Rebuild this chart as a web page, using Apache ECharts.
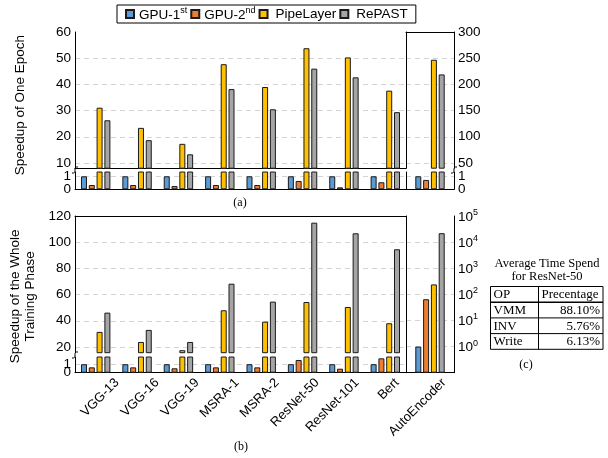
<!DOCTYPE html>
<html>
<head>
<meta charset="utf-8">
<script src="https://cdn.jsdelivr.net/npm/echarts@6.0.0/dist/echarts.min.js"></script>
<style>
  html, body { margin: 0; padding: 0; background: #fff; }
  #chart { width: 608px; height: 458px; }
</style>
</head>
<body>
<div id="chart"></div>
<script>
const categories = ['VGG-13', 'VGG-16', 'VGG-19', 'MSRA-1', 'MSRA-2', 'ResNet-50', 'ResNet-101', 'Bert'];
const extraCategory = ['AutoEncoder'];
const seriesNames = ['GPU-1st', 'GPU-2nd', 'PipeLayer', 'RePAST'];
const colors = ['#5B9BD5', '#ED7D31', '#FFC000', '#A5A5A5'];

// (a) speedup of one epoch (left axis)
const epochGpu1 = [1, 1, 1, 1, 1, 1, 1, 1];
const epochGpu2 = [0.33, 0.33, 0.25, 0.33, 0.33, 0.64, 0.15, 0.54];
const epochPipe = [31.1, 23.4, 17.3, 47.7, 39.0, 53.8, 50.3, 37.6];
const epochRepast = [26.3, 18.7, 13.3, 38.2, 30.5, 46.0, 42.7, 29.4];
// AutoEncoder, right axis, in series order
const epochAuto = [1, 0.72, 247, 219];

// (b) speedup of the whole training phase
const wholeGpu1 = [1, 1, 1, 1, 1, 1, 1, 1];
const wholeGpu2 = [0.63, 0.63, 0.52, 0.63, 0.63, 1.5, 0.47, 1.69];
const wholePipe = [31.5, 23.8, 17.5, 48.0, 39.3, 54.3, 50.5, 38.1];
const wholeRepast = [46.2, 33.0, 23.8, 68.3, 54.6, 114.9, 106.8, 94.6];
// AutoEncoder, log axis
const wholeAuto = [1, 65, 240, 22000];

const epochTicks = [10, 20, 30, 40, 50, 60];
const epochAutoTicks = [50, 100, 150, 200, 250, 300];
const wholeTicks = [20, 40, 60, 80, 100, 120];
const wholeAutoTicks = [1, 10, 100, 1000, 10000, 100000];
const lowTicks = [0, 1];

const tableOps = ['VMM', 'INV', 'Write'];
const tablePct = ['88.10%', '5.76%', '6.13%'];

const SANS = '"Liberation Sans", Arial, sans-serif';
const SERIF = '"Liberation Serif", "Times New Roman", serif';

const grids = [
  { left: 75, top: 32, width: 331, height: 136.2 },   // 0 (a) upper
  { left: 75, top: 172, width: 331, height: 17.3 },   // 1 (a) lower
  { left: 406, top: 32, width: 48, height: 136.2 },   // 2 (a) AutoEncoder upper
  { left: 406, top: 172, width: 48, height: 17.3 },   // 3 (a) AutoEncoder lower
  { left: 75, top: 216, width: 331, height: 136.7 },  // 4 (b) upper
  { left: 75, top: 357, width: 331, height: 15.7 },   // 5 (b) lower
  { left: 406, top: 216, width: 48, height: 156.7 },  // 6 (b) AutoEncoder, log
  { left: 97, top: 357, width: 320, height: 15.7 },   // 7 category labels
  { left: 420, top: 357, width: 48, height: 15.7 },   // 8 category labels
  { left: 75, top: 172, width: 379, height: 17.3 },   // 9 (a) "0" labels
  { left: 75, top: 357, width: 379, height: 15.7 }    // 10 (b) "0" label
].map(g => Object.assign({ outerBoundsMode: 'none' }, g));

function frameX(gridIndex, data, position) {
  return {
    type: 'category', gridIndex, data, position,
    axisLine: { show: true, lineStyle: { color: '#000', width: 1 } },
    axisTick: { show: false }, axisLabel: { show: false }, splitLine: { show: false }
  };
}
function labelX(gridIndex, data) {
  return {
    type: 'category', gridIndex, data, position: 'bottom',
    axisLine: { show: false }, axisTick: { show: false },
    axisLabel: { interval: 0, rotate: 45, margin: 8, fontSize: 13, fontFamily: SANS, color: '#000' }
  };
}
function hiddenX(gridIndex) {
  return { type: 'category', gridIndex, data: categories, show: false };
}

const dashed = { show: true, lineStyle: { color: '#d4d4d4', type: [5, 4], width: 1 } };
const axisText = { margin: 4, fontSize: 13.5, fontFamily: SANS, color: '#000' };

function valueY(gridIndex, position, min, max, labels, lines, extra) {
  return Object.assign({
    type: 'value', gridIndex, position, min, max,
    axisLine: { show: true, lineStyle: { color: '#000' } },
    axisTick: { show: false, customValues: lines },
    axisLabel: Object.assign({ customValues: labels }, axisText),
    splitLine: dashed
  }, extra || {});
}
// labels only, no line (the low "0" would otherwise be hidden as overlapping "1")
function zeroY(gridIndex, position, max) {
  return {
    type: 'value', gridIndex, position, min: 0, max,
    axisLine: { show: false }, axisTick: { show: false }, splitLine: { show: false },
    axisLabel: Object.assign({ customValues: [lowTicks[0]] }, axisText)
  };
}
function dividerY(gridIndex, position) {
  return {
    type: 'value', gridIndex, position, min: 0, max: 1,
    axisLine: { show: true, lineStyle: { color: '#000' } },
    axisTick: { show: false }, axisLabel: { show: false }, splitLine: { show: false }
  };
}

const xAxis = [
  frameX(0, categories, 'top'),
  frameX(1, categories, 'bottom'),
  frameX(2, extraCategory, 'top'),
  frameX(3, extraCategory, 'bottom'),
  frameX(4, categories, 'top'),
  frameX(5, categories, 'bottom'),
  frameX(6, extraCategory, 'top'),
  frameX(6, extraCategory, 'bottom'),
  labelX(7, categories),
  labelX(8, extraCategory),
  hiddenX(9),
  hiddenX(10)
];

const supRich = {
  b: { fontSize: 13.5, fontFamily: SANS, color: '#000', verticalAlign: 'bottom', lineHeight: 16 },
  s: { fontSize: 9, fontFamily: SANS, color: '#000', verticalAlign: 'bottom', lineHeight: 10, padding: [0, 0, 7, 0] }
};

const yAxis = [
  valueY(0, 'left', 8, 60, epochTicks, [10, 20, 30, 40, 50], {
    name: 'Speedup of One Epoch', nameLocation: 'middle', nameGap: 48,
    nameTextStyle: { fontSize: 13.5, fontFamily: SANS, color: '#000', padding: [0, 10, 0, 0] }
  }),
  valueY(1, 'left', 0, 1.33, [lowTicks[1]], [1]),
  valueY(2, 'right', 40, 300, epochAutoTicks, [50, 100, 150, 200, 250]),
  valueY(3, 'right', 0, 1.33, [lowTicks[1]], [1]),
  dividerY(0, 'right'),
  dividerY(1, 'right'),
  valueY(4, 'left', 15.6, 120, wholeTicks, [20, 40, 60, 80, 100], {
    name: 'Speedup of the Whole\nTraining Phase', nameLocation: 'middle', nameGap: 31,
    nameTextStyle: { fontSize: 13.5, fontFamily: SANS, color: '#000', lineHeight: 15, padding: [0, 24, 0, 0] }
  }),
  valueY(5, 'left', 0, 1.85, [lowTicks[1]], [1]),
  {
    type: 'log', logBase: 10, gridIndex: 6, position: 'right', min: 0.1, max: 100000, startValue: 0.1,
    axisLine: { show: true, lineStyle: { color: '#000' } },
    axisTick: { show: false, customValues: [1, 10, 100, 1000, 10000] },
    axisLabel: {
      customValues: wholeAutoTicks, margin: 4, showMaxLabel: true,
      formatter: v => v < 1 ? '' : '{b|10}{s|' + Math.round(Math.log10(v)) + '}',
      rich: supRich
    },
    splitLine: dashed
  },
  dividerY(6, 'left'),
  { type: 'value', gridIndex: 7, show: false },
  { type: 'value', gridIndex: 8, show: false },
  zeroY(9, 'left', 1.33),
  zeroY(9, 'right', 1.33),
  zeroY(10, 'left', 1.85)
];

const series = [];
function addBars(xAxisIndex, yAxisIndex, values) {
  seriesNames.forEach((name, i) => {
    series.push({
      name, type: 'bar', xAxisIndex, yAxisIndex, data: values[i],
      barWidth: 6, barGap: '30%',
      itemStyle: { color: colors[i], borderColor: '#1a1a1a', borderWidth: 1 },
      emphasis: { disabled: true }
    });
  });
}
const epochLeft = [epochGpu1, epochGpu2, epochPipe, epochRepast];
const wholeLeft = [wholeGpu1, wholeGpu2, wholePipe, wholeRepast];
addBars(0, 0, epochLeft);
addBars(1, 1, epochLeft);
addBars(2, 2, epochAuto.map(v => [v]));
addBars(3, 3, epochAuto.map(v => [v]));
addBars(4, 6, wholeLeft);
addBars(5, 7, wholeLeft);
addBars(7, 8, wholeAuto.map(v => [v]));

// texts, table and break marks
const graphic = [];
function text(x, y, t, font, align) {
  graphic.push({
    type: 'text', x, y, silent: true,
    style: { text: t, font, fill: '#000', textAlign: align || 'center', textVerticalAlign: 'middle' }
  });
}
function line(x1, y1, x2, y2, w) {
  graphic.push({ type: 'line', silent: true, shape: { x1, y1, x2, y2 }, style: { stroke: '#000', lineWidth: w || 1 } });
}
function breakMark(x, y) {
  graphic.push({
    type: 'bezierCurve', silent: true,
    shape: { x1: x - 3, y1: y + 3, x2: x + 3, y2: y - 3, cpx1: x + 3, cpy1: y + 4, cpx2: x - 3, cpy2: y - 4 },
    style: { stroke: '#000', lineWidth: 1, fill: null }
  });
}
breakMark(75, 170);
breakMark(454, 170);
breakMark(75, 355);

text(240, 203, '(a)', '12px ' + SERIF);
text(241, 447, '(b)', '12px ' + SERIF);
text(526, 365, '(c)', '12px ' + SERIF);
text(547, 264, 'Average Time Spend', '12.5px ' + SERIF);
text(547, 277, 'for ResNet-50', '12.5px ' + SERIF);

const tL = 490.5, tM = 538.5, tR = 603, tT = 286.5, rowH = 15.7;
const rows = [['OP', 'Precentage']].concat(tableOps.map((op, i) => [op, tablePct[i]]));
graphic.push({
  type: 'rect', silent: true,
  shape: { x: tL, y: tT, width: tR - tL, height: rowH * rows.length },
  style: { fill: 'none', stroke: '#000', lineWidth: 1 }
});
for (let r = 1; r < rows.length; r++) line(tL, tT + r * rowH, tR, tT + r * rowH, r === 1 ? 1.6 : 1);
line(tM, tT, tM, tT + rowH * rows.length);
rows.forEach((row, r) => {
  const y = tT + r * rowH + rowH / 2 + 0.5;
  text(tL + 3, y, row[0], '13px ' + SERIF, 'left');
  if (r === 0) text(tM + 3, y, row[1], '13px ' + SERIF, 'left');
  else text(tR - 3, y, row[1], '13px ' + SERIF, 'right');
});

const chart = echarts.init(document.getElementById('chart'), null, { renderer: 'canvas' });
chart.setOption({
  backgroundColor: '#fff',
  animation: false,
  grid: grids,
  legend: {
    left: 117, top: 5, padding: [1, 8, 1, 8], itemGap: 3, itemWidth: 8, itemHeight: 8,
    icon: 'rect', borderColor: '#000', borderWidth: 1, backgroundColor: '#fff',
    selectedMode: false, data: seriesNames,
    formatter: name => {
      const m = name.match(/^(GPU-\d)(st|nd)$/);
      return m ? '{b|' + m[1] + '}{s|' + m[2] + '}' : '{p|' + name + '}';
    },
    textStyle: {
      fontSize: 13.5, fontFamily: SANS, color: '#000',
      rich: Object.assign({
        p: { fontSize: 13.5, fontFamily: SANS, color: '#000', padding: [0, 0, 0, 3] }
      }, supRich)
    }
  },
  xAxis,
  yAxis,
  series,
  graphic
});
</script>
</body>
</html>
